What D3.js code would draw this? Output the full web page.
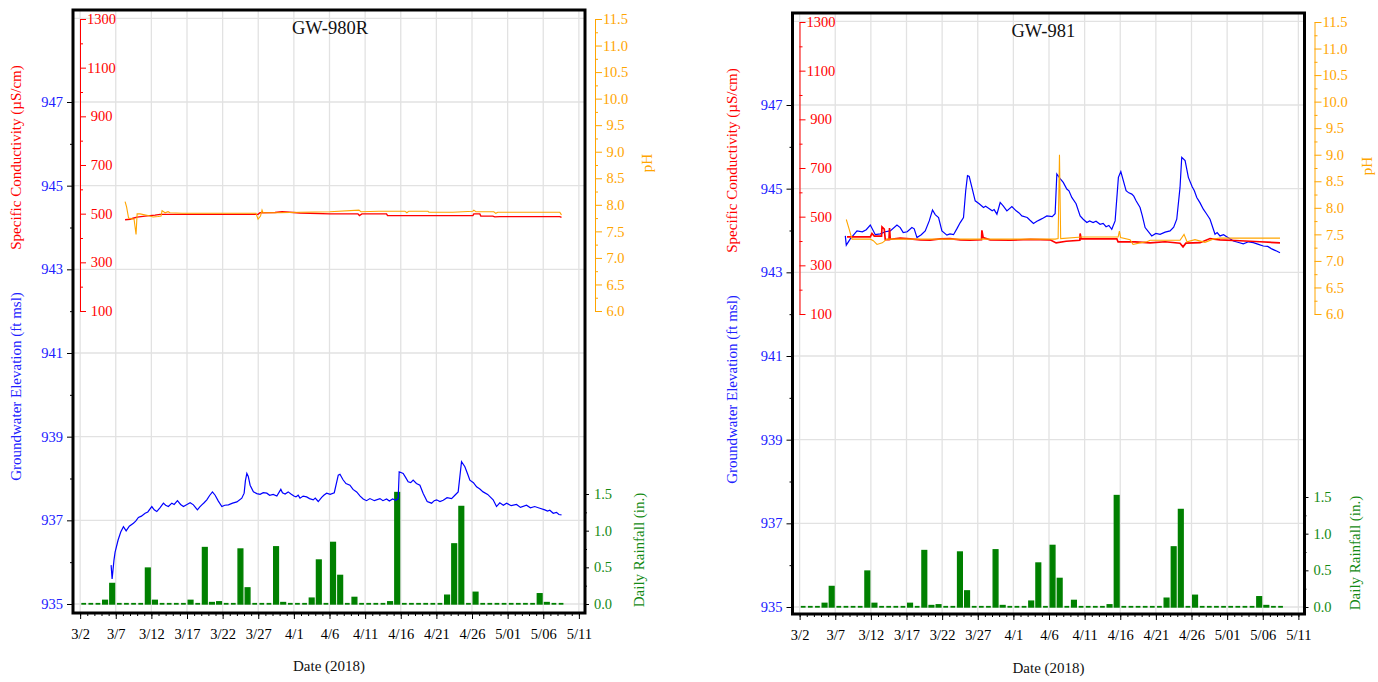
<!DOCTYPE html>
<html>
<head>
  <script src="https://d3js.org/d3.v7.min.js"></script>
  <style>
    body { margin: 0; background: #fff; }
    .grid line { stroke: #e2e2e2; stroke-width: 1.3px; }
  </style>
</head>
<body>
<svg width="1378" height="682"></svg>
<script>
const serif = '"Liberation Serif", "Times New Roman", Times, serif';

// time is in "March days": 3/2 = 2, 4/1 = 32, 5/1 = 62
const xTickDays = [2, 7, 12, 17, 22, 27, 32, 37, 42, 47, 52, 57, 62, 67, 72];
const xTickLabels = ["3/2", "3/7", "3/12", "3/17", "3/22", "3/27", "4/1", "4/6", "4/11", "4/16", "4/21", "4/26", "5/01", "5/06", "5/11"];

// daily rainfall (in.), one value per day starting 3/2
const rainStart = 2;
const rainfall = [0, 0, 0, 0.05, 0.28, 0, 0, 0, 0, 0.49, 0.05, 0, 0, 0, 0, 0.05, 0, 0.77, 0.02, 0.03,
  0, 0, 0.75, 0.22, 0, 0, 0, 0.78, 0.02, 0, 0, 0, 0.08, 0.6, 0, 0.84, 0.39, 0, 0.09, 0,
  0, 0, 0, 0.03, 1.52, 0, 0, 0, 0, 0, 0, 0.12, 0.82, 1.33, 0, 0.16, 0, 0, 0, 0,
  0, 0, 0, 0, 0.14, 0.02, 0, 0];

// GW-980R
const gw980Elev = [[6.35,935.93],[6.49,935.60],[6.75,936.05],[6.91,936.24],[7.33,936.53],[7.7,936.72],[8.08,936.85],
  [8.46,936.75],[8.9,936.86],[9.48,936.93],[9.8,936.98],[10.18,937.07],[10.6,937.10],[11.12,937.17],[11.5,937.20],
  [12.06,937.33],[12.4,937.25],[12.76,937.21],[13.2,937.30],[13.69,937.41],[14.0,937.36],[14.39,937.33],[14.87,937.41],
  [15.2,937.38],[15.66,937.47],[16.1,937.38],[16.5,937.33],[17.0,937.38],[17.44,937.42],[17.9,937.37],[18.46,937.25],
  [18.8,937.32],[19.08,937.37],[19.4,937.42],[19.78,937.49],[20.2,937.60],[20.57,937.68],[20.95,937.60],[21.4,937.46],
  [21.89,937.33],[22.3,937.36],[22.81,937.37],[23.4,937.41],[24.0,937.44],[24.69,937.53],[25.02,937.65],[25.2,937.95],
  [25.4,938.12],[25.6,938.05],[25.86,937.84],[26.32,937.68],[26.8,937.64],[27.26,937.62],[27.7,937.66],[28.2,937.65],
  [28.6,937.60],[29.1,937.62],[29.61,937.58],[30.17,937.74],[30.4,937.66],[30.77,937.63],[31.2,937.68],[31.59,937.63],
  [32.0,937.58],[32.29,937.56],[32.6,937.60],[32.86,937.53],[33.3,937.58],[33.79,937.56],[34.2,937.52],[34.72,937.49],
  [35.0,937.53],[35.42,937.45],[35.9,937.55],[36.2,937.60],[36.60,937.65],[37.1,937.62],[37.67,937.66],[38.23,938.08],
  [38.47,938.10],[38.9,937.97],[39.31,937.88],[39.87,937.84],[40.3,937.74],[40.81,937.68],[41.3,937.58],[41.73,937.51],
  [42.2,937.47],[42.67,937.52],[43.3,937.47],[44.08,937.52],[44.5,937.47],[45.01,937.51],[45.4,937.46],[45.86,937.51],
  [46.3,937.48],[46.64,937.52],[46.78,938.16],[47.34,938.12],[47.7,938.02],[48.04,937.92],[48.4,937.90],[48.74,937.96],
  [49.2,937.88],[49.69,937.84],[50.15,937.64],[50.71,937.45],[51.33,937.41],[51.7,937.47],[52.03,937.49],[52.5,937.45],
  [52.96,937.48],[53.5,937.54],[54.13,937.52],[54.6,937.60],[55.06,937.68],[55.3,938.05],[55.53,938.40],[56.00,938.28],
  [56.4,938.10],[56.70,937.96],[57.2,937.90],[57.64,937.80],[58.1,937.75],[58.56,937.68],[59.2,937.62],[59.97,937.49],
  [60.44,937.33],[60.9,937.42],[61.4,937.36],[61.85,937.41],[62.5,937.35],[63.25,937.38],[63.8,937.31],[64.65,937.36],
  [65.2,937.30],[65.8,937.33],[66.52,937.29],[67.22,937.25],[67.6,937.22],[67.92,937.24],[68.4,937.17],[68.86,937.19],
  [69.2,937.14],[69.56,937.13]];
const gw980Cond = [[8.31,475],[9.01,477],[9.43,481],[10.0,486],[11.1,490],[12.52,494],[13.22,497],[14.62,497],[26.97,497],
  [27.25,504],[29.35,505],[30.33,508],[31.45,506],[32.86,503],[37.06,499],[40.99,499],[41.2,492],[41.55,499],[45.0,499],
  [45.15,492],[57.12,492],[57.26,499],[58.1,499],[58.24,490],[59.92,490],[60.2,487],[60.9,488],[69.32,488],[69.56,485]];
const gw980PH = [[8.31,8.06],[8.52,7.96],[8.8,7.75],[9.15,7.74],[9.57,7.73],[9.85,7.44],[10.0,7.83],[10.4,7.83],[11.52,7.80],
  [12.24,7.77],[12.94,7.78],[13.36,7.79],[13.5,7.89],[13.92,7.85],[14.34,7.87],[14.62,7.85],[16.3,7.84],[26.68,7.84],
  [26.97,7.73],[27.32,7.79],[27.53,7.90],[27.67,7.85],[30.05,7.85],[32.86,7.86],[37.06,7.87],[41.13,7.90],[41.41,7.87],
  [43.94,7.88],[47.58,7.88],[47.86,7.85],[48.14,7.88],[50.81,7.88],[50.95,7.86],[54.31,7.86],[57.12,7.88],[57.26,7.90],
  [57.54,7.87],[60.06,7.87],[60.34,7.84],[60.62,7.86],[69.32,7.86],[69.56,7.81]];

// GW-981
const gw981Elev = [[8.41,943.87],[8.55,943.65],[9.11,943.80],[10.05,943.99],[10.8,943.97],[11.35,944.02],[11.92,944.13],
  [12.62,943.90],[13.32,943.92],[14.02,943.97],[14.72,943.99],[15.66,944.13],[16.12,944.07],[16.54,943.95],[17.1,943.97],
  [17.76,944.07],[18.08,944.04],[18.47,943.83],[19.07,943.90],[19.63,943.99],[20.19,944.23],[20.65,944.49],[21.03,944.38],
  [21.5,944.31],[21.97,943.99],[22.67,943.89],[23.1,943.92],[23.6,943.90],[24.1,944.05],[24.54,944.19],[25.0,944.31],
  [25.31,944.95],[25.56,945.31],[25.8,945.29],[26.18,945.03],[26.64,944.71],[27.2,944.64],[27.81,944.55],[28.1,944.58],
  [28.47,944.54],[29.03,944.47],[29.3,944.50],[29.69,944.39],[30.15,944.67],[30.57,944.59],[31.09,944.47],[31.79,944.57],
  [32.39,944.47],[32.8,944.42],[33.19,944.35],[33.94,944.31],[34.3,944.25],[34.82,944.17],[35.3,944.22],[35.76,944.26],
  [36.2,944.30],[36.7,944.35],[37.45,944.33],[37.86,944.40],[38.1,945.35],[38.56,945.24],[39.0,945.15],[39.5,944.99],
  [39.8,944.95],[40.2,944.79],[40.8,944.64],[41.37,944.35],[41.8,944.27],[42.31,944.19],[42.7,944.23],[43.19,944.19],
  [43.6,944.22],[44.17,944.15],[44.6,944.17],[45.01,944.09],[45.4,944.12],[45.81,944.03],[46.28,944.23],[46.74,945.27],
  [47.08,945.41],[47.82,944.95],[48.2,944.90],[48.62,944.87],[48.9,944.82],[49.22,944.71],[49.78,944.55],[50.1,944.35],
  [50.49,944.07],[51.42,943.87],[52.0,943.93],[52.59,943.91],[53.3,943.96],[53.99,943.99],[54.5,944.08],[54.93,944.27],
  [55.39,945.03],[55.63,945.75],[56.1,945.67],[56.56,945.27],[57.08,945.05],[57.4,944.95],[57.74,944.79],[58.2,944.66],
  [58.66,944.51],[59.1,944.40],[59.6,944.27],[60.3,943.91],[60.6,943.95],[61.0,943.87],[61.5,943.90],[61.94,943.85],
  [62.4,943.80],[62.87,943.75],[63.5,943.72],[64.27,943.68],[65.0,943.73],[65.68,943.71],[66.4,943.67],[67.08,943.63],
  [67.7,943.62],[68.26,943.56],[68.8,943.52],[69.42,943.47]];
const gw981Cond = [[8.65,417],[11.92,417],[12.15,431],[12.48,420],[13.5,420],[13.56,458],[13.88,449],[14.02,406],[14.54,406],
  [14.62,453],[14.72,407],[16.12,412],[17.5,409],[18.93,405],[20.3,404],[21.74,409],[23.1,410],[24.54,405],[25.9,403],
  [27.53,405],[27.58,444],[27.76,414],[28.74,405],[31.55,403],[34.36,407],[37.16,405],[38.0,392],[39.41,399],[41.33,403],
  [41.37,431],[41.51,409],[44.17,409],[46.52,409],[46.7,396],[49.09,396],[51.2,392],[53.3,397],[55.39,391],[55.81,376],
  [56.21,391],[58.2,393],[59.6,410],[61.0,405],[63.8,401],[66.61,397],[69.42,392]];
const gw981PH = [[8.55,7.78],[8.97,7.59],[9.35,7.41],[11.92,7.41],[12.34,7.38],[12.86,7.31],[13.6,7.34],[14.26,7.41],
  [37.86,7.41],[38.28,7.42],[38.47,9.0],[38.64,7.42],[41.61,7.45],[46.7,7.45],[46.88,7.56],[47.05,7.44],[48.38,7.40],
  [48.8,7.31],[49.78,7.34],[50.72,7.36],[51.2,7.39],[55.39,7.39],[55.95,7.50],[56.37,7.36],[57.49,7.40],[58.89,7.35],
  [60.02,7.41],[61.0,7.43],[69.42,7.43]];

const svg = d3.select("svg");

const panels = [
  { name: "GW-980R", ox: 0, oy: 0, h: 603, elev: gw980Elev, cond: gw980Cond, ph: gw980PH,
    condWidth: 1.4, labLeft: 21, labPH: 652, labRain: 644 },
  { name: "GW-981", ox: 719.5, oy: 3, h: 601, elev: gw981Elev, cond: gw981Cond, ph: gw981PH,
    condWidth: 1.7, labLeft: 737, labPH: 1372, labRain: 1360 }
];

panels.forEach(drawPanel);
svg.selectAll("text").attr("font-family", serif);
svg.selectAll("g").filter(function() { return this.hasAttribute("font-family"); }).attr("font-family", serif);

function drawPanel(p) {
  const left = 73 + p.ox, top = 10 + p.oy, w = 512, bottom = top + p.h;
  const g = svg.append("g");

  const x = d3.scaleLinear().domain([1, 73]).range([left, left + 513]);
  const yElev = d3.scaleLinear().domain([935, 947]).range([604 + p.oy, 102 + p.oy]);
  const yCond = d3.scaleLinear().domain([100, 1300]).range([311 + p.oy, 19 + p.oy]);
  const yPH = d3.scaleLinear().domain([6, 11.5]).range([311 + p.oy, 19 + p.oy]);
  const yRain = d3.scaleLinear().domain([0, 1.5]).range([604 + p.oy, 494 + p.oy]);

  // grid
  const grid = g.append("g").attr("class", "grid");
  grid.selectAll(".h").data([935, 937, 939, 941, 943, 945, 947, 949]).enter().append("line")
    .attr("x1", left).attr("x2", left + w)
    .attr("y1", d => yElev(d)).attr("y2", d => yElev(d));
  grid.selectAll(".v").data(xTickDays).enter().append("line")
    .attr("x1", d => x(d)).attr("x2", d => x(d))
    .attr("y1", top).attr("y2", bottom);

  const clipId = "clip" + p.name;
  svg.append("clipPath").attr("id", clipId).append("rect")
    .attr("x", left).attr("y", top).attr("width", w).attr("height", p.h);
  const plot = g.append("g").attr("clip-path", `url(#${clipId})`);

  // rainfall bars (zero days still show a thin dash)
  const step = x(2) - x(1);
  plot.selectAll(".bar").data(rainfall).enter().append("rect")
    .attr("x", (d, i) => x(rainStart + i) + (d > 0 ? 1.2 : 1.9))
    .attr("width", d => step - (d > 0 ? 2.4 : 3.8))
    .attr("y", d => Math.min(yRain(d), yRain(0) - 0.4))
    .attr("height", d => Math.max(yRain(0) - yRain(d), 0.4))
    .attr("fill", "#008000")
    .attr("stroke", "#008000")
    .attr("stroke-width", 1.4);

  const line = yScale => d3.line().x(d => x(d[0])).y(d => yScale(d[1]));
  plot.append("path").datum(p.elev).attr("d", line(yElev))
    .attr("fill", "none").attr("stroke", "#0000ff").attr("stroke-width", 1.2);
  plot.append("path").datum(p.cond).attr("d", line(yCond))
    .attr("fill", "none").attr("stroke", "#ff0000").attr("stroke-width", p.condWidth);
  plot.append("path").datum(p.ph).attr("d", line(yPH))
    .attr("fill", "none").attr("stroke", "#ffa500").attr("stroke-width", 1.1);

  // x axis
  const xa = g.append("g").attr("transform", `translate(0,${bottom})`)
    .call(d3.axisBottom(x).tickValues(xTickDays).tickFormat((d, i) => xTickLabels[i])
      .tickSize(6).tickPadding(10));
  xa.select(".domain").remove();
  xa.attr("font-size", 14.5).attr("color", "#000");
  const xm = g.append("g").attr("transform", `translate(0,${bottom})`)
    .call(d3.axisBottom(x).tickValues(d3.range(2, 73)).tickFormat("").tickSize(3));
  xm.select(".domain").remove();
  xm.attr("color", "#000");

  // groundwater axis (left)
  const ya = g.append("g").attr("transform", `translate(${left},0)`)
    .call(d3.axisLeft(yElev).tickValues([935, 937, 939, 941, 943, 945, 947]).tickFormat(d3.format("d"))
      .tickSize(6).tickPadding(4));
  ya.select(".domain").remove();
  ya.attr("font-size", 14.5).attr("color", "#000");
  ya.selectAll("text").attr("fill", "#2020ff");
  const yam = g.append("g").attr("transform", `translate(${left},0)`)
    .call(d3.axisLeft(yElev).tickValues([936, 938, 940, 942, 944, 946]).tickFormat("").tickSize(3));
  yam.select(".domain").remove();
  yam.attr("color", "#000");

  // specific conductivity axis (inner left)
  const ca = g.append("g").attr("transform", `translate(${left + 7},0)`)
    .call(d3.axisRight(yCond).tickValues([100, 300, 500, 700, 900, 1100, 1300]).tickFormat(d3.format("d"))
      .tickSize(6).tickSizeOuter(0));
  ca.attr("font-size", 14.5).attr("color", "#ff0000");
  ca.selectAll("text").attr("x", 21.5).attr("text-anchor", "middle");
  const cam = g.append("g").attr("transform", `translate(${left + 7},0)`)
    .call(d3.axisRight(yCond).tickValues([200, 400, 600, 800, 1000, 1200]).tickFormat("").tickSize(3));
  cam.select(".domain").remove();
  cam.attr("color", "#ff0000");

  // pH axis (outer right)
  const pa = g.append("g").attr("transform", `translate(${left + w + 10},0)`)
    .call(d3.axisRight(yPH).tickValues(d3.range(6, 11.51, 0.5)).tickFormat(d3.format(".1f"))
      .tickSize(7).tickSizeOuter(0));
  pa.attr("font-size", 14.5).attr("color", "#ffa500");
  pa.selectAll("text").attr("x", 20.5).attr("text-anchor", "middle");
  const pam = g.append("g").attr("transform", `translate(${left + w + 10},0)`)
    .call(d3.axisRight(yPH).tickValues(d3.range(6.25, 11.5, 0.5)).tickFormat("").tickSize(3));
  pam.select(".domain").remove();
  pam.attr("color", "#ffa500");

  // rainfall axis (right, on frame)
  const ra = g.append("g").attr("transform", `translate(${left + w},0)`)
    .call(d3.axisRight(yRain).tickValues([0, 0.5, 1, 1.5]).tickFormat(d3.format(".1f")).tickSize(4));
  ra.select(".domain").remove();
  ra.attr("font-size", 14.5).attr("color", "#000");
  ra.selectAll("text").attr("x", 18).attr("text-anchor", "middle").attr("fill", "#138a13");
  const ram = g.append("g").attr("transform", `translate(${left + w},0)`)
    .call(d3.axisRight(yRain).tickValues([0.25, 0.75, 1.25]).tickFormat("").tickSize(2));
  ram.select(".domain").remove();
  ram.attr("color", "#000");

  // frame
  g.append("rect").attr("x", left).attr("y", top).attr("width", w).attr("height", p.h)
    .attr("fill", "none").attr("stroke", "#000").attr("stroke-width", 3);

  // titles
  g.append("text").attr("x", left + 219).attr("y", top + 24)
    .attr("font-size", 18.5).attr("fill", "#111").text(p.name);
  g.append("text").attr("x", left + w / 2).attr("y", 671 + p.oy * 0.6)
    .attr("text-anchor", "middle").attr("font-size", 15).attr("fill", "#111").text("Date (2018)");

  const vLabel = (xPos, yPos, color, txt) => g.append("text")
    .attr("transform", `translate(${xPos},${yPos}) rotate(-90)`)
    .attr("text-anchor", "middle").attr("font-size", 15).attr("fill", color).text(txt);
  vLabel(p.labLeft, 157.5 + p.oy, "#ff0000", "Specific Conductivity (µS/cm)");
  vLabel(p.labLeft, 386.5 + p.oy, "#2020ff", "Groundwater Elevation (ft msl)");
  vLabel(p.labPH, 163 + p.oy, "#ffa500", "pH");
  vLabel(p.labRain, 550 + p.oy, "#138a13", "Daily Rainfall (in.)");
}
</script>
</body>
</html>
